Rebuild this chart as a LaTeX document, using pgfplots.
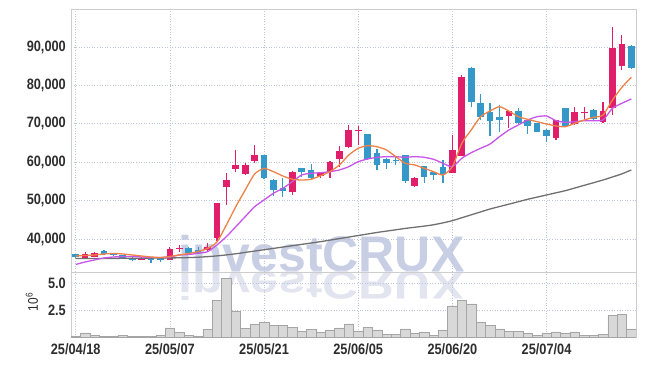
\documentclass[border=0pt]{standalone}
\usepackage{fontspec}
\setmainfont{Liberation Sans}
\newfontfamily\condfont[FakeStretch=0.85]{Liberation Sans}
\usepackage{pgfplots}
\usepackage{pgfplotstable}
\pgfplotsset{compat=1.18}
\definecolor{upc}{RGB}{225,30,105}
\definecolor{dnc}{RGB}{52,152,200}
\definecolor{ma5c}{RGB}{238,130,72}
\definecolor{ma20c}{RGB}{200,85,232}
\definecolor{ma60c}{RGB}{112,112,112}
\definecolor{gridc}{RGB}{190,196,218}
\definecolor{framec}{RGB}{205,205,205}
\definecolor{wmc}{RGB}{200,206,228}
\definecolor{wmc2}{RGB}{226,229,239}
\definecolor{volfill}{RGB}{216,216,216}
\definecolor{voldraw}{RGB}{165,165,165}
\definecolor{labc}{RGB}{45,45,45}

\pgfplotstableread{
i o h l c
1 35000 36700 34900 36000
2 35400 36500 35300 36300
7 34600 35200 34500 35100
10 34600 37800 34500 37300
11 37450 38400 36700 37750
14 37000 39000 36900 38000
15 40200 49400 39600 49400
16 53600 57100 48900 55400
17 58200 63100 57400 59300
18 57000 59700 56700 59300
19 60400 64600 59700 61900
23 52200 57600 51500 57400
26 56400 57500 55800 57300
27 57500 60200 55800 60100
28 60800 64200 58800 62900
29 63900 69700 63800 68400
30 68200 69400 64500 68500
36 53800 56100 53500 56000
40 57300 67000 57200 63200
41 61600 82600 61500 82100
46 72100 73400 68800 73300
51 66200 71100 65800 71000
53 70000 74300 69600 73100
54 72800 74300 71200 73100
56 70500 75800 70300 73400
57 74000 95100 72300 89700
58 85100 93100 84000 90800
}\upT

\pgfplotstableread{
i o h l c
0 36000 36100 35000 35300
3 36900 37000 35700 36000
4 36200 36400 35600 35800
5 35800 35900 34900 35000
6 35100 35300 34300 34700
8 35100 35200 33700 34500
9 35200 35300 34100 34500
12 37700 37800 36200 36300
13 37100 37800 36300 36400
20 61900 62000 55700 55800
21 55400 55600 51200 52800
22 53300 55800 50900 52600
24 58400 58600 56200 57500
25 58000 59500 55500 55800
31 67300 67400 60700 60800
32 62300 63400 58000 59300
33 60800 61000 58100 59900
34 60700 61400 59300 60400
35 61800 61900 54500 55200
37 59000 59000 54700 56100
38 57400 57500 55400 56600
39 58700 60600 54700 56900
42 84600 84900 74400 75800
43 75300 77700 71000 71800
44 73100 75300 66800 70800
45 71800 74900 67900 71100
47 73300 74000 70000 70300
48 71000 71200 67300 69300
49 70100 70200 67800 67900
50 68400 68600 65300 66900
52 74000 74100 69200 69400
55 73600 73900 70900 71200
59 90300 90500 84300 84600
}\dnT

\pgfplotstableread{
i ma5 ma20 ma60
0 35570 33360 34900
1 35700 34010 34900
2 35830 34530 34900
3 36090 35050 34920
4 36220 35310 34940
5 36090 35440 34960
6 35830 35440 34980
7 35570 35310 35000
8 35310 35180 35020
9 35180 35180 35040
10 35440 35310 35060
11 35830 35830 35100
12 36220 35960 35150
13 36750 36280 35250
14 37530 36690 35400
15 39220 38440 35600
16 43650 40600 35850
17 48410 43200 36150
18 52760 45810 36500
19 56930 48410 36850
20 58360 50160 37200
21 57530 51900 37550
22 56410 53200 37900
23 55550 54920 38250
24 55360 56670 38600
25 55550 57110 38950
26 56480 57260 39300
27 57530 57530 39700
28 59270 57970 40100
29 61870 58830 40500
30 63620 60130 40900
31 64300 60830 41300
32 64030 61270 41700
33 63180 61430 42050
34 61430 61430 42400
35 59710 61270 42750
36 59270 61430 43050
37 58410 61270 43350
38 57530 60750 43700
39 56670 59710 44200
40 58830 58830 44770
41 64920 61010 45530
42 68380 62470 46290
43 71850 63620 47050
44 73330 64740 47810
45 74450 66640 48440
46 73330 68380 49070
47 71850 69690 49700
48 71170 70990 50340
49 70540 71850 50900
50 69950 72030 51460
51 69430 70810 52020
52 69240 70390 52580
53 70130 70540 53280
54 70990 70810 53970
55 71690 70810 54660
56 72290 70990 55360
57 76200 74030 56150
58 79500 75340 56960
59 82110 76460 57970
}\maT

\pgfplotstableread{
i v
0 0.14
1 0.42
2 0.20
3 0.08
4 0.08
5 0.22
6 0.08
7 0.08
8 0.10
9 0.20
10 0.88
11 0.45
12 0.20
13 0.08
14 0.76
15 3.44
16 5.48
17 2.45
18 0.87
19 1.24
20 1.43
21 1.13
22 1.13
23 0.95
24 0.60
25 0.78
26 0.50
27 0.71
28 0.90
29 1.27
30 0.62
31 0.96
32 0.71
33 0.31
34 0.31
35 0.80
36 0.43
37 0.52
38 0.22
39 0.71
40 2.93
41 3.45
42 3.11
43 1.45
44 1.14
45 0.80
46 0.59
47 0.59
48 0.40
49 0.22
50 0.43
51 0.52
52 0.43
53 0.52
54 0.22
55 0.22
56 0.31
57 2.07
58 2.16
59 0.80
}\volT

\pgfplotsset{
  cbase/.style={
    scale only axis, width=565pt,
    xmin=-0.5, xmax=59.5,
    axis line style={framec, line width=0.8pt},
    major tick length=0pt,
    grid=major,
    major grid style={gridc, dash pattern=on 1pt off 1.6pt, line width=0.6pt},
    xtick={0,10,20,30,40,50},
    tick label style={font=\condfont\bfseries\fontsize{15}{15}\selectfont, text=labc},
    /pgf/number format/assume math mode=true,
    yticklabel style={inner sep=0pt, xshift=-5pt},
  },
  wick/.style={draw=none, mark=none, forget plot,
    error bars/.cd, y dir=both, y explicit, error mark=none,
    error bar style={line width=1.2pt, draw=#1}},
  body/.style={draw=none, mark=none, forget plot,
    error bars/.cd, y dir=both, y explicit, error mark=none,
    error bar style={line width=6.6pt, draw=#1}},
}

\begin{document}
\begin{tikzpicture}
\path[use as bounding box] (-71pt,-94pt) rectangle (574pt,272pt);
\node[anchor=base west, inner sep=0pt, text=wmc, font=\bfseries\fontsize{50}{50}\selectfont] at (107pt,0pt) {investCRUX};
\node[anchor=base west, inner sep=0pt, text=wmc2, font=\bfseries\fontsize{50}{50}\selectfont, yscale=-0.8] at (107pt,0pt) {investCRUX};

\begin{axis}[cbase, at={(0pt,0pt)}, anchor=south west, height=263pt,
  ymin=31400, ymax=99900,
  ytick={40000,50000,60000,70000,80000,90000},
  xticklabels={},
  scaled y ticks=false,
  yticklabel style={/pgf/number format/fixed, /pgf/number format/1000 sep={,}},
]
\addplot[wick=dnc] table[x=i, y expr={(\thisrow{h}+\thisrow{l})/2}, y error expr={(\thisrow{h}-\thisrow{l})/2}] {\dnT};
\addplot[wick=upc] table[x=i, y expr={(\thisrow{h}+\thisrow{l})/2}, y error expr={(\thisrow{h}-\thisrow{l})/2}] {\upT};
\addplot[body=dnc] table[x=i, y expr={(\thisrow{o}+\thisrow{c})/2}, y error expr={abs(\thisrow{o}-\thisrow{c})/2}] {\dnT};
\addplot[body=upc] table[x=i, y expr={(\thisrow{o}+\thisrow{c})/2}, y error expr={abs(\thisrow{o}-\thisrow{c})/2}] {\upT};
\addplot[ma60c, line width=1.3pt, smooth, tension=0.4, mark=none] table[x=i, y=ma60] {\maT};
\addplot[ma20c, line width=1.3pt, smooth, tension=0.4, mark=none] table[x=i, y=ma20] {\maT};
\addplot[ma5c, line width=1.3pt, smooth, tension=0.4, mark=none] table[x=i, y=ma5] {\maT};
\end{axis}

\begin{axis}[cbase, at={(0pt,0pt)}, anchor=north west, height=65.5pt,
  ymin=0, ymax=6.06,
  ytick={2.5,5},
  xticklabels={25/04/18,25/05/07,25/05/21,25/06/05,25/06/20,25/07/04},
  xticklabel style={inner sep=0pt, anchor=north, yshift=-5.5pt},
  yticklabel style={/pgf/number format/fixed, /pgf/number format/fixed zerofill, /pgf/number format/precision=1},
]
\addplot[ybar, bar width=9.42pt, fill=volfill, draw=voldraw, line width=0.4pt] table[x=i, y=v] {\volT};
\end{axis}
\node[rotate=90, inner sep=0pt, text=labc, font=\condfont\fontsize{14}{14}\selectfont] at (-39pt,-30pt) {10\textsuperscript{6}};
\end{tikzpicture}
\end{document}
